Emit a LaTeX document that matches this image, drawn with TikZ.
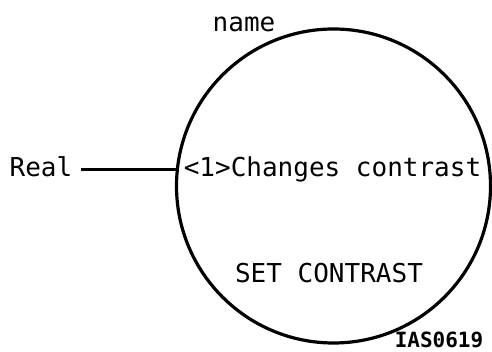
\documentclass[tikz,border=0pt]{standalone}
\usepackage{fontspec}
\newfontfamily\diagfont{DejaVu Sans Mono}
\usetikzlibrary{positioning}
\tikzset{
  lbl/.style={font=\diagfont\fontsize{26}{30}\selectfont, inner sep=0pt, anchor=base},
  bubble/.style={draw, circle, line width=3.2pt, minimum size=314pt, inner sep=0pt},
  flow/.style={line width=3.2pt}
}
\begin{document}
\begin{tikzpicture}[x=1pt,y=1pt]
  \useasboundingbox (0,0) rectangle (492,352);

  \node[bubble] (proc) at (333.5,166) {};

  \node[lbl] (inname) at (41,175) {Real};
  \node[lbl] (title) at (244,320) {name};
  \node[lbl] (desc) at (332.5,175) {<1>Changes contrast};
  \node[lbl] (procname) at (329,69) {SET CONTRAST};
  \node[font=\diagfont\bfseries\fontsize{21}{24}\selectfont, inner sep=0pt, anchor=base] (figid) at (439,4) {IAS0619};

  \draw[flow] ([xshift=8pt]inname.east |- proc.174) -- (proc.174);
\end{tikzpicture}
\end{document}
